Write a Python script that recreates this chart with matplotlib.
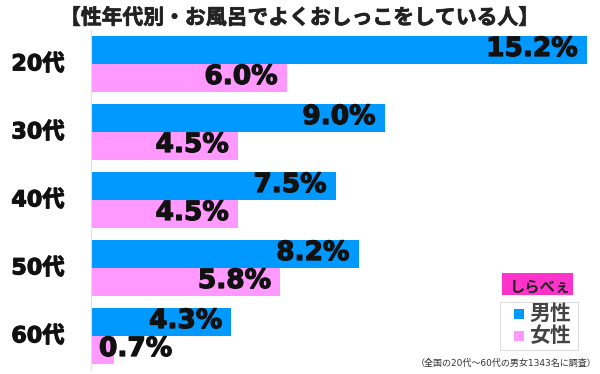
import matplotlib
matplotlib.use("Agg")
import matplotlib.pyplot as plt
from matplotlib.patches import Rectangle
import matplotlib.patheffects as pe

plt.rcParams['font.family'] = ['DejaVu Sans', 'Noto Sans CJK JP']

title = "【性年代別・お風呂でよくおしっこをしている人】"
categories = ["20代", "30代", "40代", "50代", "60代"]
male = [15.2, 9.0, 7.5, 8.2, 4.3]
female = [6.0, 4.5, 4.5, 5.8, 0.7]
legend_labels = ["男性", "女性"]
footnote = "（全国の20代～60代の男女1343名に調査）"

blue = "#0099FF"
pink = "#FF99FF"

W, H = 600, 374
fig = plt.figure(figsize=(6, 3.74), dpi=100)
ax = fig.add_axes([91 / W, (374 - 370) / H, (587 - 91) / W, 340 / H])

bh = 28 / 68
ys = list(range(len(categories)))
ax.barh([y - bh / 2 for y in ys], male, height=bh, color=blue)
ax.barh([y + bh / 2 for y in ys], female, height=bh, color=pink)
ax.set_xlim(0, 15.2)
ax.set_ylim(len(categories) - 0.5, -0.5)
ax.set_xticks([])
ax.set_yticks([])
for s in ["top", "right", "bottom"]:
    ax.spines[s].set_visible(False)
ax.spines["left"].set_color("#e0e0e0")
ax.spines["left"].set_linewidth(0.8)

heavy = [pe.withStroke(linewidth=0.9, foreground="#111111")]

for vals, off in ((male, -bh / 2), (female, bh / 2)):
    for y, v in zip(ys, vals):
        txt = f"{v:.1f}%"
        if v < 2:
            ax.annotate(txt, (0, y + off), xytext=(8, 1), textcoords="offset pixels",
                        ha="left", va="center", fontsize=19, fontweight="bold",
                        color="#111111", path_effects=heavy)
        else:
            ax.annotate(txt, (v, y + off), xytext=(-9, 1), textcoords="offset pixels",
                        ha="right", va="center", fontsize=19, fontweight="bold",
                        color="#111111", path_effects=heavy)

for y, c in zip(ys, categories):
    ax.annotate(c, (0, y), xytext=(-53, 0), textcoords="offset pixels",
                ha="center", va="center", fontsize=16, fontweight="bold", color="#111111",
                annotation_clip=False,
                path_effects=[pe.withStroke(linewidth=0.8, foreground="#111111")])

fig.text(300 / W, 1 - 18 / H, title, ha="center", va="center", fontsize=15,
         fontweight="bold", color="#222222",
         path_effects=[pe.withStroke(linewidth=0.5, foreground="#222222")])

# logo
fig.patches.append(Rectangle((502 / W, 1 - 295 / H), 71 / W, 22 / H,
                             transform=fig.transFigure, facecolor="#FF33CC",
                             edgecolor="none"))
fig.text(540 / W, 1 - 287 / H, "しらべぇ", ha="center", va="center", fontsize=11,
         fontweight="bold", color="#222222")

# legend
fig.patches.append(Rectangle((500 / W, 1 - 350 / H), 78 / W, 48 / H,
                             transform=fig.transFigure, facecolor="white",
                             edgecolor="#dddddd", linewidth=0.8))
for i, (lab, col) in enumerate(zip(legend_labels, [blue, pink])):
    yc = 314 + i * 22
    fig.patches.append(Rectangle((514 / W, 1 - (yc + 5) / H), 10 / W, 10 / H,
                                 transform=fig.transFigure, facecolor=col,
                                 edgecolor="none"))
    fig.text(529 / W, 1 - yc / H, lab, ha="left", va="center", fontsize=15,
             fontweight="bold", color="#444444")

fig.text(597 / W, 1 - 363 / H, footnote, ha="right", va="center", fontsize=6.5,
         color="#333333")

fig.savefig("out.png", dpi=100)
